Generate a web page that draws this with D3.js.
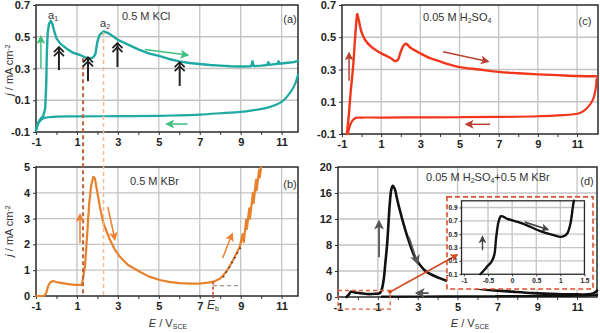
<!DOCTYPE html>
<html><head><meta charset="utf-8">
<script src="https://cdn.jsdelivr.net/npm/d3@7"></script>
<style>body{margin:0;background:#fff}svg{display:block}text{font-family:"Liberation Sans",Arial,sans-serif}</style>
</head><body><script>
// ---------- data (E / V_SCE, j / mA cm-2) ----------
const kclForward=[[-1,-0.09],[-0.92,-0.05],[-0.8,-0.02],[-0.65,0.0],[-0.55,0.05],[-0.5,0.2],[-0.47,0.4],[-0.43,0.52],[-0.37,0.58],[-0.28,0.6],[-0.2,0.58],[-0.1,0.53],[0.0,0.49],[0.2,0.455],[0.5,0.425],[0.8,0.4],[1.15,0.385],[1.4,0.37],[1.6,0.362],[1.8,0.37],[1.9,0.39],[2.0,0.47],[2.1,0.51],[2.3,0.533],[2.5,0.525],[2.8,0.5],[3.0,0.48],[3.5,0.45],[4,0.42],[4.5,0.395],[5,0.38],[5.5,0.36],[6,0.345],[6.5,0.335],[7,0.328],[7.5,0.322],[8,0.318],[8.5,0.314],[9,0.313],[9.5,0.314],[9.58,0.345],[9.63,0.315],[10,0.318],[10.3,0.322],[10.35,0.34],[10.4,0.323],[10.8,0.33],[10.85,0.345],[10.9,0.33],[11.3,0.336],[11.6,0.34],[11.8,0.35]];
const kclReverse=[[11.8,0.26],[11.65,0.2],[11.4,0.145],[11,0.09],[10.4,0.057],[9.5,0.035],[9,0.027],[8,0.018],[7,0.01],[6,0.005],[5,0.002],[3,0.0],[1,-0.002],[0,-0.003],[-0.3,-0.006],[-0.6,-0.012],[-0.8,-0.03],[-0.9,-0.05],[-1,-0.09]];
const kbrScan=[[-1,0],[-0.6,0],[-0.5,0.12],[-0.4,0.4],[-0.3,0.53],[-0.17,0.58],[0,0.54],[0.5,0.47],[0.9,0.43],[1.23,0.43],[1.3,0.7],[1.4,1.2],[1.5,2.4],[1.6,3.6],[1.7,4.3],[1.8,4.62],[1.88,4.55],[2.0,4.0],[2.12,3.46],[2.3,2.8],[2.6,2.2],[2.85,1.8],[3.1,1.52],[3.5,1.2],[4.07,0.94],[4.5,0.76],[5.05,0.62],[5.5,0.55],[6.0,0.5],[6.5,0.48],[7.0,0.48],[7.4,0.52],[7.7,0.56],[8.0,0.68],[8.2,0.85],[8.46,1.14],[8.7,1.5],[8.95,1.9],[9.1,2.4],[9.15,2.1],[9.27,2.95],[9.3,2.6],[9.42,3.4],[9.45,3.0],[9.6,4.0],[9.63,3.6],[9.75,4.5],[9.78,4.1],[9.9,4.9],[9.93,4.6],[10.0,5.0]];
const h2so4Forward=[[-0.75,-0.1],[-0.65,0.02],[-0.55,0.17],[-0.43,0.32],[-0.33,0.5],[-0.25,0.62],[-0.22,0.644],[-0.15,0.61],[0,0.53],[0.2,0.48],[0.5,0.44],[1,0.4],[1.5,0.37],[1.7,0.352],[1.85,0.36],[2.0,0.41],[2.15,0.45],[2.27,0.46],[2.5,0.435],[3,0.4],[3.5,0.37],[4,0.35],[4.5,0.33],[5,0.315],[6,0.3],[7,0.285],[8,0.277],[9,0.27],[10,0.265],[11,0.26],[12,0.258]];
const h2so4Reverse=[[12,0.24],[11.95,0.18],[11.8,0.11],[11.5,0.06],[11.15,0.03],[10,0.015],[9,0.01],[7,0.006],[5,0.004],[3,0.003],[1,0.002],[0,0.002],[-0.3,0.0],[-0.45,-0.015],[-0.55,-0.035],[-0.65,-0.07],[-0.7,-0.1]];
const mixForward=[[-0.57,0],[-0.45,0.4],[-0.35,0.8],[-0.15,0.7],[0.43,0.46],[0.9,0.5],[1.1,0.6],[1.2,1.2],[1.3,2.8],[1.37,5.0],[1.47,8.3],[1.6,14.4],[1.68,16.6],[1.75,17.1],[1.85,16.6],[1.95,15.3],[2.1,13.4],[2.43,9.8],[2.85,6.2],[3.1,5.0],[3.43,3.9],[4.1,2.9],[5.1,1.85],[6.27,1.2],[7.77,0.82],[8.77,0.6],[10,0.45],[11,0.4],[11.7,0.45],[11.9,0.7],[12,1.0]];
const mixReverse=[[12,0.3],[11,0.2],[9,0.15],[7,0.12],[5,0.1],[3,0.08],[1.2,0.05]];
const insetScan=[[-0.66,-0.1],[-0.57,-0.03],[-0.5,0.03],[-0.43,0.085],[-0.37,0.19],[-0.33,0.46],[-0.28,0.69],[-0.23,0.77],[-0.1,0.73],[0.22,0.66],[0.57,0.55],[0.84,0.49],[1.02,0.46],[1.1,0.48],[1.15,0.52],[1.21,0.66],[1.26,0.91],[1.28,1.0]];
const xLabelValues=[-1,1,3,5,7,9,11];
const xMinorValues=[-1,0,1,2,3,4,5,6,7,8,9,10,11];
const yTicksAC=[-0.1,0.1,0.3,0.5,0.7];
const yTicksB=[0,1,2,3,4,5];
const yTicksD=[0,4,8,12,16,20];
const insetXTicks=[-1,-0.5,0,0.5,1,1.5];
const insetYTicks=[-0.1,0.1,0.3,0.5,0.7,0.9];

// ---------- drawing ----------
const svg=d3.select("body").append("svg").attr("width",600).attr("height",333);
const defs=svg.append("defs");
function marker(id,color,size){
  defs.append("marker").attr("id",id).attr("viewBox","0 0 10 10").attr("refX",8).attr("refY",5)
   .attr("markerWidth",size).attr("markerHeight",size).attr("markerUnits","userSpaceOnUse").attr("orient","auto")
   .append("path").attr("d","M0,0 L10,5 L0,10 L2.5,5 Z").attr("fill",color);
}
marker("mGreen","#3dbf7f",9);marker("mOrange","#ee8030",9);marker("mRed","#b8412d",9);
marker("mGray","#555",10);marker("mZoom","#d34a22",8);marker("mInset","#444",8);

function panel(o){
  const x=d3.scaleLinear().domain(o.xd).range(o.xr);
  const y=d3.scaleLinear().domain(o.yd).range(o.yr);
  const g=svg.append("g");
  g.selectAll(null).data(o.xGrid).join("line").attr("x1",d=>x(d)).attr("x2",d=>x(d))
   .attr("y1",o.yr[0]).attr("y2",o.yr[1]).attr("stroke","#c4c4c4").attr("stroke-width",1.3);
  g.selectAll(null).data(o.yGrid).join("line").attr("y1",d=>y(d)).attr("y2",d=>y(d))
   .attr("x1",o.xr[0]).attr("x2",o.xr[1]).attr("stroke","#c4c4c4").attr("stroke-width",1.3);
  const ax=g.append("g").attr("transform",`translate(0,${o.yr[0]})`)
   .call(d3.axisBottom(x).tickValues(o.xTicks).tickSize(o.tickLen).tickPadding(o.pad)
     .tickFormat(d=>o.xLabels.includes(d)?String(d):""));
  const ay=g.append("g").attr("transform",`translate(${o.xr[0]},0)`)
   .call(d3.axisLeft(y).tickValues(o.yTicks).tickSize(o.tickLen).tickPadding(o.pad).tickFormat(d=>String(d)));
  [ax,ay].forEach(a=>{a.select(".domain").remove();
    a.selectAll("line").attr("stroke","#333");
    a.selectAll("text").attr("font-size",o.fs).attr("font-weight","bold").attr("fill","#222");});
  g.append("rect").attr("x",o.xr[0]).attr("y",o.yr[1]).attr("width",o.xr[1]-o.xr[0]).attr("height",o.yr[0]-o.yr[1])
   .attr("fill","none").attr("stroke","#2a2a2a").attr("stroke-width",o.frame||1.5);
  return {x,y,g};
}
function curve(p,data,color,w,kind){
  p.g.append("path").datum(data).attr("fill","none").attr("stroke",color).attr("stroke-width",w)
   .attr("stroke-linejoin","round").attr("stroke-linecap","round")
   .attr("d",d3.line().x(d=>p.x(d[0])).y(d=>p.y(d[1])).curve(kind||d3.curveCatmullRom.alpha(0.5)));
}
function arrow(p,a,b,color,mk,w){
  svg.append("line").attr("x1",p.x(a[0])).attr("y1",p.y(a[1])).attr("x2",p.x(b[0])).attr("y2",p.y(b[1]))
   .attr("stroke",color).attr("stroke-width",w||1.6).attr("marker-end",`url(#${mk})`);
}
function chevArrow(p,E,j0,j1){
  const X=p.x(E),Y0=p.y(j0),Y1=p.y(j1);
  svg.append("line").attr("x1",X).attr("x2",X).attr("y1",Y0).attr("y2",Y1).attr("stroke","#222").attr("stroke-width",2);
  [0,4].forEach(k=>svg.append("polyline").attr("points",`${X-5},${Y1+k+5} ${X},${Y1+k} ${X+5},${Y1+k+5}`)
    .attr("fill","none").attr("stroke","#222").attr("stroke-width",1.8));
}
function label(x,y,parts,opt){
  const t=svg.append("text").attr("x",x).attr("y",y).attr("font-size",opt&&opt.fs||11).attr("fill","#333")
    .attr("text-anchor",opt&&opt.anchor||"start");
  if(opt&&opt.rotate) t.attr("transform",`rotate(-90,${x},${y})`);
  parts.forEach(p=>{const s=t.append("tspan").text(p.t);
    if(p.i) s.attr("font-style","italic");
    if(p.sub) s.attr("font-size",7).attr("baseline-shift","-30%");
    if(p.sup) s.attr("font-size",7).attr("baseline-shift","40%");});
  return t;
}
const common={xTicks:xMinorValues,xLabels:xLabelValues,xGrid:[1,3,5,7,9,11],tickLen:3,pad:3,fs:11};

// (a)
const pA=panel({...common,xd:[-1,11.8],xr:[36,298],yd:[-0.1,0.7],yr:[132,5],yTicks:yTicksAC,yGrid:[0.1,0.3,0.5]});
// (b)
const pB=panel({...common,xd:[-1,11.8],xr:[36,298],yd:[0,5],yr:[296,167],yTicks:yTicksB,yGrid:[1,2,3,4]});
// (c)
const pC=panel({...common,xd:[-1,12.07],xr:[342,598],yd:[-0.1,0.7],yr:[134,5],yTicks:yTicksAC,yGrid:[0.1,0.3,0.5]});
// (d)
const pD=panel({...common,xd:[-1,12],xr:[338,597],yd:[0,20],yr:[297,167],yTicks:yTicksD,yGrid:[4,8,12,16]});

// dashed guide lines through (a) and (b)
svg.append("line").attr("x1",pA.x(1.3)).attr("x2",pA.x(1.3)).attr("y1",pA.y(0.365)).attr("y2",pB.y(0))
  .attr("stroke","#c0643a").attr("stroke-width",2).attr("stroke-dasharray","4,3");
svg.append("line").attr("x1",pA.x(2.3)).attr("x2",pA.x(2.3)).attr("y1",pA.y(0.53)).attr("y2",pB.y(0))
  .attr("stroke","#f5b894").attr("stroke-width",1.5).attr("stroke-dasharray","4,3");

curve(pA,kclReverse,"#1fa9a3",2.2);
curve(pA,kclForward,"#1fa9a3",2.4,d3.curveLinear);
curve(pB,kbrScan,"#e8812b",2.2,d3.curveLinear);
curve(pC,h2so4Reverse,"#f2361c",2.2);
curve(pC,h2so4Forward,"#f2361c",2.4);
curve(pD,mixReverse,"#111",2.2);
curve(pD,mixForward,"#111",2.6);

// (a) annotations
arrow(pA,[-0.76,0.3],[-0.76,0.5],"#3dbf7f","mGreen",1.5);
arrow(pA,[4.32,0.42],[6.4,0.385],"#3dbf7f","mGreen",1.5);
arrow(pA,[6.4,-0.05],[5.4,-0.05],"#3dbf7f","mGreen",1.5);
chevArrow(pA,0.12,0.29,0.435);
chevArrow(pA,1.54,0.22,0.37);
chevArrow(pA,2.98,0.31,0.46);
chevArrow(pA,6.02,0.19,0.34);
label(48,19,[{t:"a"},{t:"1",sub:1}]);
label(100,27,[{t:"a"},{t:"2",sub:1}]);
label(122,20,[{t:"0.5 M KCl"}]);
label(290,23,[{t:"(a)"}],{anchor:"middle"});
label(13,70,[{t:"j",i:1},{t:" / mA cm"},{t:"-2",sup:1}],{rotate:1,anchor:"middle"});

// (b) annotations
arrow(pB,[1.15,2.05],[1.15,3.15],"#ee8030","mOrange",1.5);
arrow(pB,[2.51,3.45],[2.85,2.2],"#ee8030","mOrange",1.5);
arrow(pB,[8.12,1.47],[8.58,2.4],"#ee8030","mOrange",1.5);
svg.append("line").attr("x1",pB.x(7.65)).attr("x2",pB.x(7.65)).attr("y1",pB.y(0.55)).attr("y2",pB.y(0)+2)
  .attr("stroke","#d0402a").attr("stroke-width",1.5).attr("stroke-dasharray","3,2");
svg.append("line").attr("x1",pB.x(7.65)).attr("x2",pB.x(8.9)).attr("y1",pB.y(0.4)).attr("y2",pB.y(0.4))
  .attr("stroke","#999").attr("stroke-width",1.2).attr("stroke-dasharray","4,3");
svg.append("line").attr("x1",pB.x(8.15)).attr("x2",pB.x(9.05)).attr("y1",pB.y(0.72)).attr("y2",pB.y(1.95))
  .attr("stroke","#333").attr("stroke-width",1.6).attr("stroke-dasharray","1.5,4");
label(130,185,[{t:"0.5 M KBr"}]);
label(290,188,[{t:"(b)"}],{anchor:"middle"});
label(213,309,[{t:"E",i:1},{t:"b",sub:1}],{anchor:"middle",fs:12});
label(13,231,[{t:"j",i:1},{t:" / mA cm"},{t:"-2",sup:1}],{rotate:1,anchor:"middle"});
label(168,327,[{t:"E",i:1},{t:" / V"},{t:"SCE",sub:1}],{anchor:"middle"});

// (c) annotations
arrow(pC,[-0.64,0.23],[-0.64,0.4],"#b8412d","mRed",1.5);
arrow(pC,[4.16,0.41],[6.45,0.35],"#b8412d","mRed",1.5);
arrow(pC,[6.56,-0.04],[5.35,-0.04],"#b8412d","mRed",1.5);
label(423,21,[{t:"0.05 M H"},{t:"2",sub:1},{t:"SO"},{t:"4",sub:1}]);
label(585,25,[{t:"(c)"}],{anchor:"middle"});

// (d) annotations
arrow(pD,[1.06,6.1],[1.06,11.6],"#555","mGray",1.8);
arrow(pD,[2.56,9.2],[2.99,5.2],"#555","mGray",1.8);
arrow(pD,[3.55,0.6],[2.95,0.6],"#555","mGray",1.8);
// zoom boxes
svg.append("rect").attr("x",pD.x(-1)).attr("y",pD.y(1.0)).attr("width",pD.x(1.62)-pD.x(-1)).attr("height",pD.y(-1.85)-pD.y(1.0))
  .attr("fill","none").attr("stroke","#e0603a").attr("stroke-width",1.3).attr("stroke-dasharray","4,3");
svg.append("rect").attr("x",pD.x(4.47)).attr("y",pD.y(15.4)).attr("width",pD.x(11.8)-pD.x(4.47)).attr("height",pD.y(1.23)-pD.y(15.4))
  .attr("fill","#fff").attr("stroke","#d9502a").attr("stroke-width",1.6).attr("stroke-dasharray","5,3");
svg.append("circle").attr("cx",pD.x(1.61)).attr("cy",pD.y(0.77)).attr("r",1.8).attr("fill","#d34a22");
arrow(pD,[1.61,0.77],[4.97,6.46],"#d34a22","mZoom",1.6);
// inset
const pI=panel({xTicks:insetXTicks,xLabels:insetXTicks,xGrid:[-0.5,0,0.5,1],tickLen:2,pad:2,fs:6.5,frame:1.3,
  xd:[-1.05,1.5],xr:[pD.x(5.2),pD.x(11.37)],yd:[-0.1,1.0],yr:[pD.y(3.5),pD.y(14.8)],yTicks:insetYTicks,yGrid:[0.1,0.3,0.5,0.7,0.9]});
curve(pI,insetScan,"#111",2.4);
arrow(pI,[-0.615,0.26],[-0.615,0.46],"#444","mInset",1.4);
arrow(pI,[0.26,0.68],[0.74,0.57],"#444","mInset",1.8);
label(426,181,[{t:"0.05 M H"},{t:"2",sub:1},{t:"SO"},{t:"4",sub:1},{t:"+0.5 M KBr"}]);
label(587,185,[{t:"(d)"}],{anchor:"middle"});
label(470,327,[{t:"E",i:1},{t:" / V"},{t:"SCE",sub:1}],{anchor:"middle"});
</script></body></html>
